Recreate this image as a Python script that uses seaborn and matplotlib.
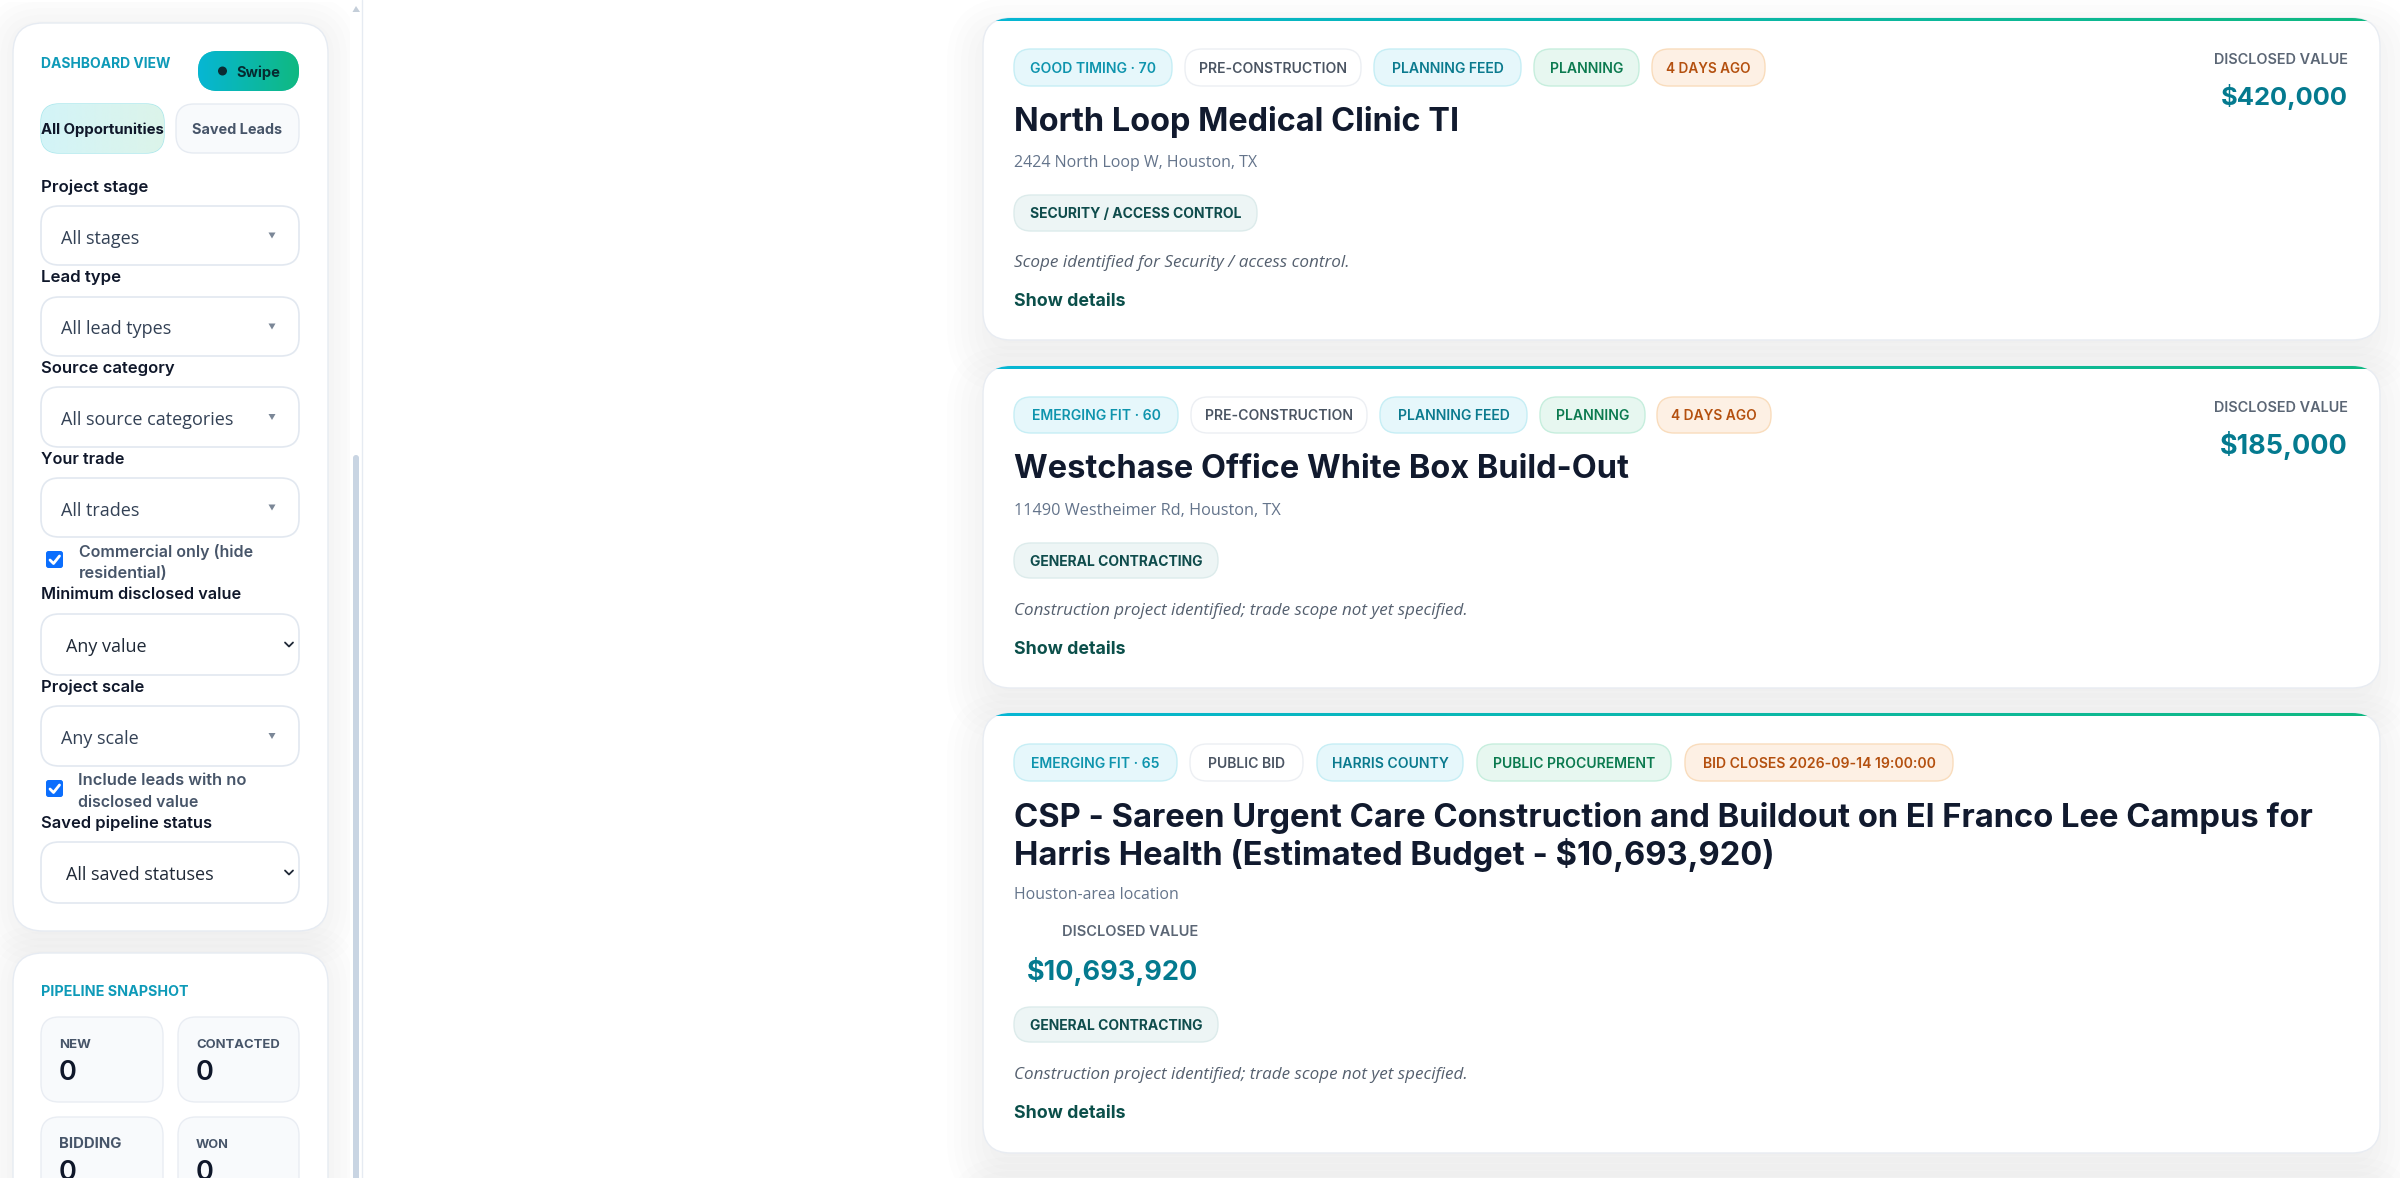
import matplotlib
matplotlib.use('Agg')
import matplotlib.pyplot as plt
import numpy as np
import seaborn as sns
from matplotlib.patches import FancyBboxPatch, Rectangle, Circle, Polygon

# sidebar text
view_title = 'DASHBOARD VIEW'
swipe_label = 'Swipe'
view_tabs = ['All Opportunities', 'Saved Leads']
filter_labels = ['Project stage', 'Lead type', 'Source category', 'Your trade',
                 'Minimum disclosed value', 'Project scale', 'Saved pipeline status']
filter_values = ['All stages', 'All lead types', 'All source categories', 'All trades',
                 'Any value', 'Any scale', 'All saved statuses']
commercial_lines = ['Commercial only (hide', 'residential)']
no_value_lines = ['Include leads with no', 'disclosed value']
snapshot_title = 'PIPELINE SNAPSHOT'
snapshot_labels = ['NEW', 'CONTACTED', 'BIDDING', 'WON']
snapshot_counts = [0, 0, 0, 0]

# lead cards
card_pills = [
    ['GOOD TIMING · 70', 'PRE-CONSTRUCTION', 'PLANNING FEED', 'PLANNING', '4 DAYS AGO'],
    ['EMERGING FIT · 60', 'PRE-CONSTRUCTION', 'PLANNING FEED', 'PLANNING', '4 DAYS AGO'],
    ['EMERGING FIT · 65', 'PUBLIC BID', 'HARRIS COUNTY', 'PUBLIC PROCUREMENT', 'BID CLOSES 2026-09-14 19:00:00'],
]
card_titles = [
    ['North Loop Medical Clinic TI'],
    ['Westchase Office White Box Build-Out'],
    ['CSP - Sareen Urgent Care Construction and Buildout on El Franco Lee Campus for',
     'Harris Health (Estimated Budget - $10,693,920)'],
]
card_places = ['2424 North Loop W, Houston, TX', '11490 Westheimer Rd, Houston, TX', 'Houston-area location']
card_values = ['$420,000', '$185,000', '$10,693,920']
card_trades = ['SECURITY / ACCESS CONTROL', 'GENERAL CONTRACTING', 'GENERAL CONTRACTING']
card_notes = ['Scope identified for Security / access control.',
              'Construction project identified; trade scope not yet specified.',
              'Construction project identified; trade scope not yet specified.']
value_label = 'DISCLOSED VALUE'
details_label = 'Show details'

sns.set_theme(style='white')
plt.rcParams['font.family'] = ['Inter', 'DejaVu Sans']

fig = plt.figure(figsize=(24, 11.78), dpi=100)
ax = fig.add_axes([0, 0, 1, 1])
ax.set_xlim(0, 2400)
ax.set_ylim(1178, 0)
ax.axis('off')

PX = 0.72  # px to pt at dpi 100
INK = '#0f172a'
SLATE = '#475569'
CYAN_LABEL = '#0e9ab8'


def box(x0, y0, x1, y1, r, fc='white', ec='none', lw=1.0, z=2, alpha=None):
    p = FancyBboxPatch((x0 + r, y0 + r), x1 - x0 - 2 * r, y1 - y0 - 2 * r,
                       boxstyle='round,pad=%f,rounding_size=%f' % (r, r),
                       fc=fc, ec=ec, lw=lw, zorder=z, alpha=alpha)
    ax.add_patch(p)
    return p


def shadow(x0, y0, x1, y1, r, drop=14, spread=36, z=1):
    # soft css style shadow, stacked translucent boxes
    for i in range(9):
        g = spread - (spread + 20) * i / 8
        box(x0 - g, y0 - g + drop, x1 + g, y1 + g + drop, max(r + g, 4), fc='#0f172a', z=z, alpha=0.008)


def write(x, y, s, px, color=INK, weight='normal', ha='left', style='normal', family=None, z=5, width=None, most=9):
    t = ax.text(x, y, s, fontsize=px * PX, color=color, fontweight=weight, ha=ha, va='center_baseline',
                fontstyle=style, zorder=z, family=family or ['Inter', 'DejaVu Sans'])
    if width:
        w = t.get_window_extent(fig.canvas.get_renderer()).width
        t.set_fontsize(px * PX * min(width / w, most))
    return t


def gradient(x0, y0, x1, y1, colors, clip=None, z=3):
    strip = np.array(sns.blend_palette(colors, 256))[None, :, :3]
    im = ax.imshow(strip, extent=(x0, x1, y1, y0), aspect='auto', zorder=z)
    if clip is not None:
        im.set_clip_path(clip)
    ax.set_xlim(0, 2400)
    ax.set_ylim(1178, 0)
    return im


BODY = ['Open Sans', 'DejaVu Sans']

# ---- left sidebar
shadow(13, 23, 328, 931, 30, drop=4, spread=32)
shadow(13, 953, 328, 1300, 30, drop=4, spread=32)
box(13, 23, 328, 931, 30, ec='#e6ebf2')
box(13, 953, 328, 1300, 30, ec='#e6ebf2')
# scrollbar track hides the shadow
ax.add_patch(Rectangle((350, 0), 2050, 1178, fc='white', ec='none', zorder=1.5))
ax.add_patch(Rectangle((0, 0), 350, 2, fc='white', ec='none', zorder=1.5))
ax.plot([362, 362], [0, 1178], color='#e6ebf2', lw=1, zorder=1.6)
ax.add_patch(Polygon([[352.5, 12], [360, 12], [356, 6]], fc='#c4ced9', ec='none', zorder=3))
box(353, 455, 359, 1260, 3, fc='#c9d5e3', z=3)

write(41, 62, view_title, 13, color=CYAN_LABEL, weight='bold', width=130)
btn = box(198, 51, 299, 91, 20, fc='#0bb3a8')
gradient(198, 51, 299, 91, ['#06b6d4', '#10b981'], clip=btn)
ax.add_patch(Circle((222.5, 71), 4.5, fc='#0b2b33', ec='none', zorder=5))
write(236, 71, swipe_label, 15, color='#062a30', weight='bold', width=44)

tab = box(41, 104, 164, 153, 18, fc='#d7f3f2', ec='#a9e7ec')
gradient(41, 104, 164, 153, ['#d3f4f8', '#dcf4ea'], clip=tab)
write(102.5, 128.5, view_tabs[0], 14, weight='bold', ha='center', width=123)
box(176, 104, 299, 153, 18, fc='#f8fafc', ec='#e6ebf2')
write(237.5, 128.5, view_tabs[1], 14, color=SLATE, weight='bold', ha='center', width=90)

label_y = [186, 276, 367, 458, 593, 686, 822]
label_w = [107, 80, 133, 83, 200, 103, 171]
select_top = [206, 297, 387, 478, 614, 706, 842]
select_bottom = [265, 356, 447, 537, 675, 766, 903]
native_select = [False, False, False, False, True, False, True]
for i in range(7):
    write(41, label_y[i], filter_labels[i], 15, weight='semibold', width=label_w[i])
    box(41, select_top[i], 299, select_bottom[i], 18, ec='#e2e8f0', lw=1.2)
    mid = (select_top[i] + select_bottom[i]) / 2
    if native_select[i]:
        write(66, mid + 1, filter_values[i], 18, color='#1f2937', family=BODY)
        ax.plot([285, 289, 293], [mid - 2, mid + 2, mid - 2], color='#1f2937', lw=1.3, zorder=5)
    else:
        write(61, mid + 1, filter_values[i], 18, color='#334155', family=BODY)
        ax.add_patch(Polygon([[268.5, mid - 3], [275.5, mid - 3], [272, mid + 3]], fc='#7b8797', ec='none', zorder=5))

check_rows = [(551, 79, commercial_lines, [174, 89]), (780, 78, no_value_lines, [168, 120])]
for top, tx, lines, widths in check_rows:
    box(46, top, 63, top + 17, 2.5, fc='#0b6efd')
    ax.plot([50, 53.5, 59.5], [top + 9, top + 12.5, top + 5], color='white', lw=2, zorder=5)
    write(tx, top - 1, lines[0], 14.5, color=SLATE, weight='semibold', width=widths[0])
    write(tx, top + 21, lines[1], 14.5, color=SLATE, weight='semibold', width=widths[1])

write(41, 991, snapshot_title, 13, color=CYAN_LABEL, weight='bold', width=147)
tile_x = [(41, 163), (178, 299)]
tile_y = [(1017, 1102), (1117, 1202)]
snapshot_w = [32, 84, 63, 33]
for k in range(4):
    xs = tile_x[k % 2]
    ys = tile_y[k // 2]
    box(xs[0], ys[0], xs[1], ys[1], 18, fc='#f8fafc', ec='#e9edf3')
    write(xs[0] + 18, ys[0] + 26, snapshot_labels[k], 12.5, color=SLATE, weight='bold', width=snapshot_w[k])
    write(xs[0] + 18, ys[0] + 53, str(snapshot_counts[k]), 27, weight='semibold')

# ---- lead cards
card_top = [18, 366, 713]
card_bottom = [340, 688, 1153]
pill_x = [
    [(1014, 1172), (1185, 1361), (1374, 1521), (1534, 1639), (1652, 1765)],
    [(1014, 1178), (1191, 1367), (1380, 1527), (1540, 1645), (1657, 1771)],
    [(1014, 1177), (1190, 1303), (1317, 1463), (1477, 1671), (1685, 1953)],
]
pill_y = [(49, 86), (397, 433), (744, 781)]
pill_colors = [('#e6f7fb', '#c6eef5', '#0e94ad'), ('#ffffff', '#eceff3', '#4b5563'), ('#e6f7fb', '#c6eef5', '#0a7a8e'),
               ('#e7f7f0', '#c6eedd', '#0b7a4f'), ('#fdf0e4', '#f9dcbc', '#b4500f')]
title_y = [[118], [466], [814, 851]]
title_w = [[446], [615], [1304, 761]]
place_y = [161, 509, 893]
place_w = [243, 266, 165]
tag_x = [1257, 1218, 1218]
tag_y = [(195, 231), (543, 578), (1007, 1042)]
note_y = [261, 609, 1073]
note_w = [335, 453, 453]
detail_y = [299, 647, 1112]

shadow(983, 1177, 2380, 1500, 28, drop=16, z=1.6)
for c in range(3):
    shadow(983, card_top[c], 2380, card_bottom[c], 28, drop=16, z=1.6)
for c in range(3):
    card = box(983, card_top[c], 2380, card_bottom[c], 28, ec='#e8ecf2')
    gradient(983, card_top[c], 2380, card_top[c] + 3.5, ['#06b6d4', '#10b981'], clip=card)
    for j in range(5):
        x0, x1 = pill_x[c][j]
        y0, y1 = pill_y[c]
        fc, ec, tc = pill_colors[j]
        box(x0, y0, x1, y1, 17, fc=fc, ec=ec)
        write((x0 + x1) / 2, (y0 + y1) / 2, card_pills[c][j], 13, color=tc, weight='semibold', ha='center',
              width=x1 - x0 - 28, most=1.08)
    for line, ly, lw_ in zip(card_titles[c], title_y[c], title_w[c]):
        write(1014, ly, line, 30, color='#111a2e', weight='bold', width=lw_)
    write(1014, place_y[c], card_places[c], 16, color='#64748b', family=BODY, width=place_w[c])
    y0, y1 = tag_y[c]
    box(1014, y0, tag_x[c], y1, 17, fc='#edf5f5', ec='#dcebeb')
    write((1014 + tag_x[c]) / 2, (y0 + y1) / 2, card_trades[c], 13, color='#0f4c4c', weight='bold', ha='center',
          width=tag_x[c] - 1014 - 30, most=1.08)
    write(1014, note_y[c], card_notes[c], 16, color='#55606f', style='italic', family=BODY, width=note_w[c])
    write(1014, detail_y[c], details_label, 16, color='#0b4f4a', weight='bold', width=111)

# disclosed value sits top right on the short cards, under the address on the long one
write(2348, 58, value_label, 12.5, color='#5b6675', weight='semibold', ha='right', width=134)
write(2348, 95, card_values[0], 28, color='#047a8f', weight='bold', ha='right', width=127)
write(2348, 406, value_label, 12.5, color='#5b6675', weight='semibold', ha='right', width=134)
write(2348, 443, card_values[1], 28, color='#047a8f', weight='bold', ha='right', width=127)
write(1198, 930, value_label, 12.5, color='#5b6675', weight='semibold', ha='right', width=135)
write(1198, 968, card_values[2], 28, color='#047a8f', weight='bold', ha='right', width=171)

fig.savefig('out.png', dpi=100)
